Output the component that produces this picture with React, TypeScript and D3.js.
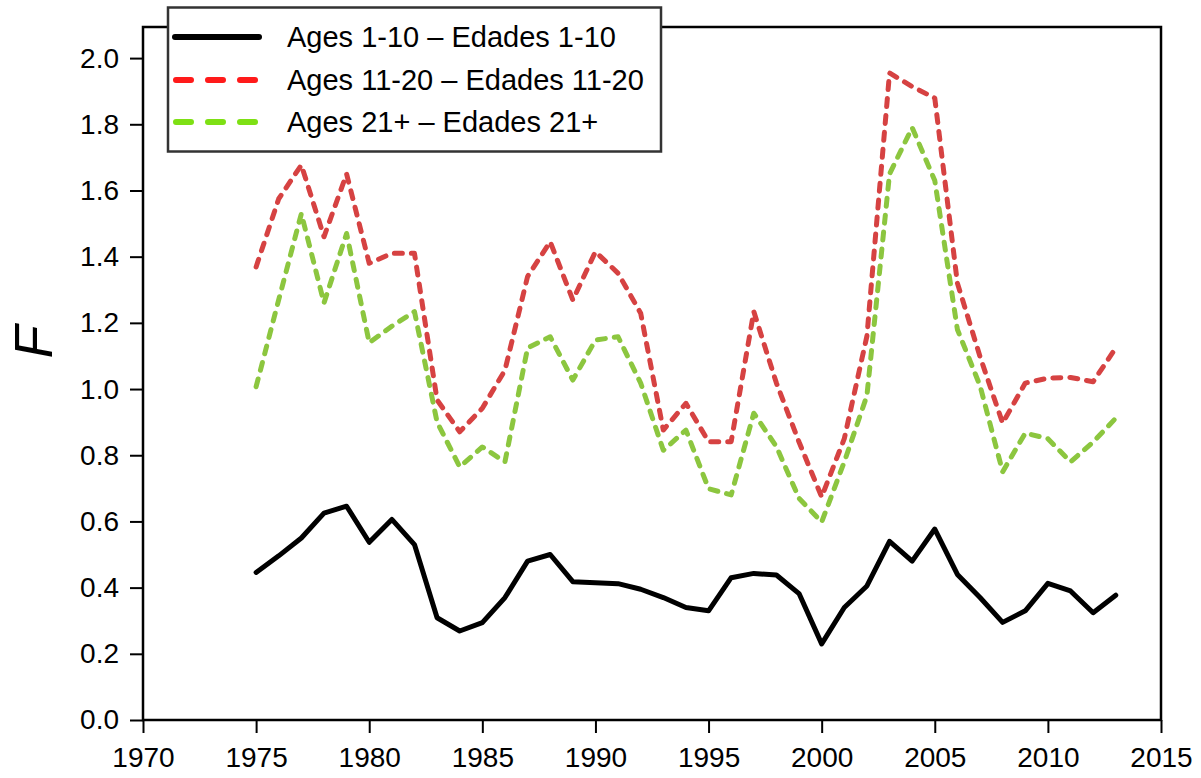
import React, { useEffect, useRef } from "react";
import * as d3 from "d3";

// fishing mortality F by age group, 1975-2013
const years = d3.range(1975, 2014);
const ages1to10 = [
  0.446, 0.496, 0.55, 0.625, 0.646, 0.537, 0.606, 0.53, 0.309, 0.269,
  0.294, 0.37, 0.48, 0.5, 0.418, 0.415, 0.412, 0.395, 0.37, 0.34,
  0.33, 0.43, 0.443, 0.438, 0.382, 0.23, 0.34, 0.405, 0.54, 0.48,
  0.577, 0.44, 0.37, 0.295, 0.33, 0.413, 0.39, 0.324, 0.377,
];
const ages11to20 = [
  1.369, 1.575, 1.677, 1.46, 1.65, 1.38, 1.41, 1.41, 0.967, 0.871,
  0.942, 1.057, 1.34, 1.445, 1.269, 1.415, 1.35, 1.229, 0.876, 0.957,
  0.841, 0.841, 1.234, 1.018, 0.84, 0.674, 0.85, 1.16, 1.955, 1.914,
  1.879, 1.32, 1.098, 0.897, 1.018, 1.033, 1.035, 1.022, 1.124,
];
const ages21plus = [
  1.007, 1.27, 1.53, 1.26, 1.47, 1.14, 1.19, 1.234, 0.9, 0.765,
  0.825, 0.78, 1.124, 1.158, 1.027, 1.148, 1.158, 1.018, 0.815, 0.876,
  0.699, 0.68, 0.927, 0.826, 0.67, 0.598, 0.78, 0.98, 1.65, 1.79,
  1.63, 1.18, 1.01, 0.75, 0.867, 0.85, 0.78, 0.84, 0.912,
];
const xTicks = [1970, 1975, 1980, 1985, 1990, 1995, 2000, 2005, 2010, 2015];
const yTicks = [0, 0.2, 0.4, 0.6, 0.8, 1.0, 1.2, 1.4, 1.6, 1.8, 2.0];
const legendLabels = [
  "Ages 1-10 \u2013 Edades 1-10",
  "Ages 11-20 \u2013 Edades 11-20",
  "Ages 21+ \u2013 Edades 21+",
];

const FONT = "'Liberation Sans', Arial, sans-serif";

export default function App() {
  const svgRef = useRef<SVGSVGElement>(null);

  useEffect(() => {
    if (!svgRef.current) return;
    const svg = d3.select(svgRef.current);
    svg.selectAll("*").remove();

    const left = 143, right = 1161, top = 25, bottom = 720;
    const x = d3.scaleLinear().domain([1970, 2015]).range([left, right]);
    const y = d3.scaleLinear().domain([0, 2.1]).range([bottom, top]);

    // frame
    svg
      .append("rect")
      .attr("x", left)
      .attr("y", y(2.1) + 2)
      .attr("width", right - left)
      .attr("height", bottom - y(2.1) - 2)
      .attr("fill", "none")
      .attr("stroke", "#000")
      .attr("stroke-width", 2.5);

    // axes
    const xAxis = svg
      .append("g")
      .attr("transform", `translate(0,${bottom})`)
      .call(
        d3.axisBottom(x).tickValues(xTicks).tickFormat(d3.format("d")).tickSize(13).tickPadding(14)
      );
    const yAxis = svg
      .append("g")
      .attr("transform", `translate(${left},0)`)
      .call(
        d3.axisLeft(y).tickValues(yTicks).tickFormat(d3.format(".1f")).tickSize(13).tickPadding(11)
      );
    [xAxis, yAxis].forEach((g) => {
      g.select(".domain").remove();
      g.selectAll("line").attr("stroke", "#000").attr("stroke-width", 2);
      g.selectAll("text")
        .attr("fill", "#000")
        .style("font-family", FONT)
        .style("font-size", "28px");
    });
    xAxis.selectAll("text").attr("dy", "0.71em");

    // y label
    svg
      .append("text")
      .attr("transform", "translate(52,342) rotate(-90)")
      .attr("text-anchor", "middle")
      .style("font-family", FONT)
      .style("font-size", "54px")
      .style("font-style", "italic")
      .text("F");

    const line = d3
      .line<number>()
      .x((_, i) => x(years[i]))
      .y((d) => y(d));

    const series = [
      { data: ages21plus, color: "#8cc63f", dash: "8 9", width: 5 },
      { data: ages11to20, color: "#d64242", dash: "8 9", width: 5 },
      { data: ages1to10, color: "#000", dash: null, width: 5 },
    ];
    series.forEach((s) => {
      svg
        .append("path")
        .datum(s.data)
        .attr("d", line)
        .attr("fill", "none")
        .attr("stroke", s.color)
        .attr("stroke-width", s.width)
        .attr("stroke-linecap", "round")
        .attr("stroke-linejoin", "round")
        .attr("stroke-dasharray", s.dash);
    });

    // legend
    const legend = svg.append("g");
    legend
      .append("rect")
      .attr("x", 168)
      .attr("y", 7.5)
      .attr("width", 493)
      .attr("height", 144)
      .attr("fill", "#fff")
      .attr("stroke", "#333")
      .attr("stroke-width", 2.5);
    const legendItems = [
      { color: "#000", dash: null },
      { color: "#ff1a1a", dash: "15 17" },
      { color: "#7ee014", dash: "15 17" },
    ];
    const rowY = [37, 80, 122];
    legendLabels.forEach((label, i) => {
      legend
        .append("line")
        .attr("x1", i === 0 ? 175 : 176)
        .attr("x2", 259)
        .attr("y1", rowY[i])
        .attr("y2", rowY[i])
        .attr("stroke", legendItems[i].color)
        .attr("stroke-width", 6)
        .attr("stroke-linecap", "round")
        .attr("stroke-dasharray", legendItems[i].dash);
      legend
        .append("text")
        .attr("x", 287)
        .attr("y", rowY[i])
        .attr("dy", "0.36em")
        .style("font-family", FONT)
        .style("font-size", "29px")
        .text(label);
    });
  }, []);

  return (
    <svg
      ref={svgRef}
      width={1201}
      height={778}
      style={{ position: "absolute", left: 0, top: 0, background: "#fff" }}
    />
  );
}
